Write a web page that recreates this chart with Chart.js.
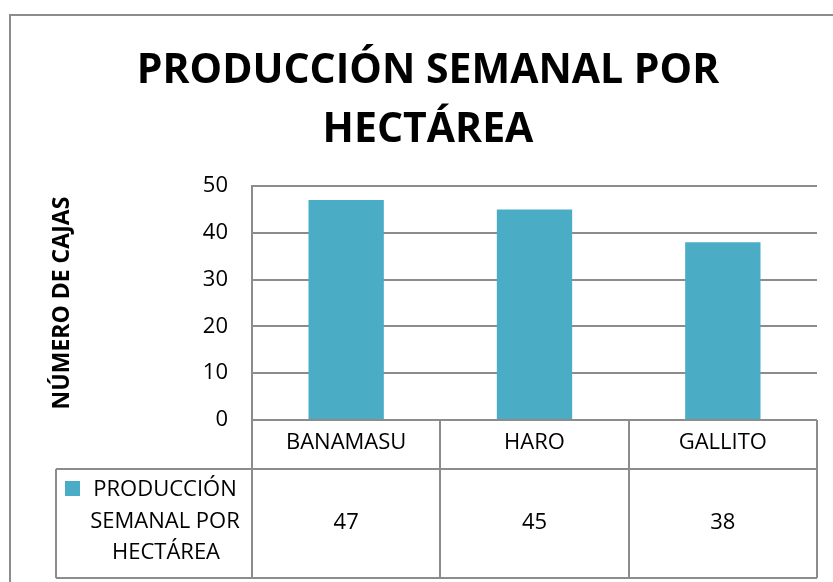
<!DOCTYPE html>
<html>
<head>
    <meta charset="utf-8">
    <title>Producción semanal por hectárea</title>
    <script src="https://cdn.jsdelivr.net/npm/chart.js"></script>
    <style>
        html, body { margin: 0; padding: 0; background: #fff; }
        #wrap { width: 833px; height: 582px; position: relative; }
    </style>
</head>
<body>
<div id="wrap"><canvas id="grafico" width="833" height="582"></canvas></div>

<script>
    const fincas = ['BANAMASU', 'HARO', 'GALLITO'];
    const cajas = [47, 45, 38];
    const serie = ['PRODUCCIÓN', 'SEMANAL POR', 'HECTÁREA'];
    const titulo = ['PRODUCCIÓN SEMANAL POR', 'HECTÁREA'];
    const ejeY = 'NÚMERO DE CAJAS';

    const FUENTE = "'Open Sans', sans-serif";
    const GRIS = '#8c8c8c';
    const AZUL = '#4BACC6';

    // marco exterior, tabla de datos y titulo del eje Y
    const tablaDatos = {
        id: 'tablaDatos',
        beforeDraw(chart) {
            const ctx = chart.ctx;
            ctx.save();
            ctx.strokeStyle = GRIS;
            ctx.lineWidth = 2;
            ctx.strokeRect(10, 15, 900, 700);
            ctx.restore();
        },
        afterDraw(chart) {
            const ctx = chart.ctx;
            const x = chart.scales.x;
            const area = chart.chartArea;
            const paso = x.getPixelForValue(1) - x.getPixelForValue(0);
            const filaCat = area.bottom + 49;
            const filaFin = area.bottom + 158;
            const izqTabla = 56;

            ctx.save();
            ctx.strokeStyle = GRIS;
            ctx.lineWidth = 2;
            ctx.beginPath();
            // separadores verticales
            for (let i = 0; i <= fincas.length; i++) {
                const px = Math.round(x.getPixelForValue(i) - paso / 2);
                ctx.moveTo(px, i === 0 ? area.top : area.bottom);
                ctx.lineTo(px, filaFin);
            }
            ctx.moveTo(izqTabla, filaCat);
            ctx.lineTo(izqTabla, filaFin);
            ctx.moveTo(izqTabla, filaCat);
            ctx.lineTo(area.right, filaCat);
            ctx.moveTo(izqTabla, filaFin);
            ctx.lineTo(area.right, filaFin);
            ctx.stroke();

            // leyenda
            ctx.fillStyle = AZUL;
            ctx.fillRect(65, 481, 15, 15);
            ctx.fillStyle = '#000';
            ctx.font = '22px ' + FUENTE;
            ctx.textAlign = 'center';
            ctx.textBaseline = 'middle';
            ctx.fillText(serie[0], 165, 490);
            ctx.fillText(serie[1], 165, 522);
            ctx.fillText(serie[2], 166, 553);

            // valores
            cajas.forEach((v, i) => {
                ctx.fillText(String(v), x.getPixelForValue(i), 523);
            });

            // titulo eje Y
            ctx.translate(62, (area.top + area.bottom) / 2);
            ctx.rotate(-Math.PI / 2);
            ctx.font = 'bold 23px ' + FUENTE;
            ctx.fillText(ejeY, 0, 0);
            ctx.restore();
        }
    };

    new Chart(document.getElementById('grafico'), {
        type: 'bar',
        data: {
            labels: fincas,
            datasets: [{
                label: serie.join(' '),
                data: cajas,
                backgroundColor: AZUL,
                barPercentage: 0.4,
                categoryPercentage: 1
            }]
        },
        options: {
            responsive: false,
            animation: false,
            layout: { padding: { top: 0, right: 16, bottom: 0, left: 39 } },
            plugins: {
                legend: { display: false },
                tooltip: { enabled: false },
                title: {
                    display: true,
                    text: titulo,
                    color: '#000',
                    font: { family: FUENTE, size: 41, weight: 'bold', lineHeight: 1.44 },
                    padding: { top: 42, bottom: 26 }
                }
            },
            scales: {
                y: {
                    min: 0,
                    max: 50,
                    ticks: {
                        stepSize: 10,
                        color: '#000',
                        padding: 24,
                        font: { family: FUENTE, size: 22 }
                    },
                    grid: { color: GRIS, lineWidth: 2, drawTicks: false },
                    border: { display: true, color: GRIS, width: 2 },
                    afterFit(scale) { scale.width = 213; }
                },
                x: {
                    ticks: {
                        color: '#000',
                        padding: 10,
                        font: { family: FUENTE, size: 22 }
                    },
                    grid: { display: false, drawTicks: false },
                    border: { display: false },
                    afterFit(scale) { scale.height = 162; }
                }
            }
        },
        plugins: [tablaDatos]
    });
</script>
</body>
</html>
